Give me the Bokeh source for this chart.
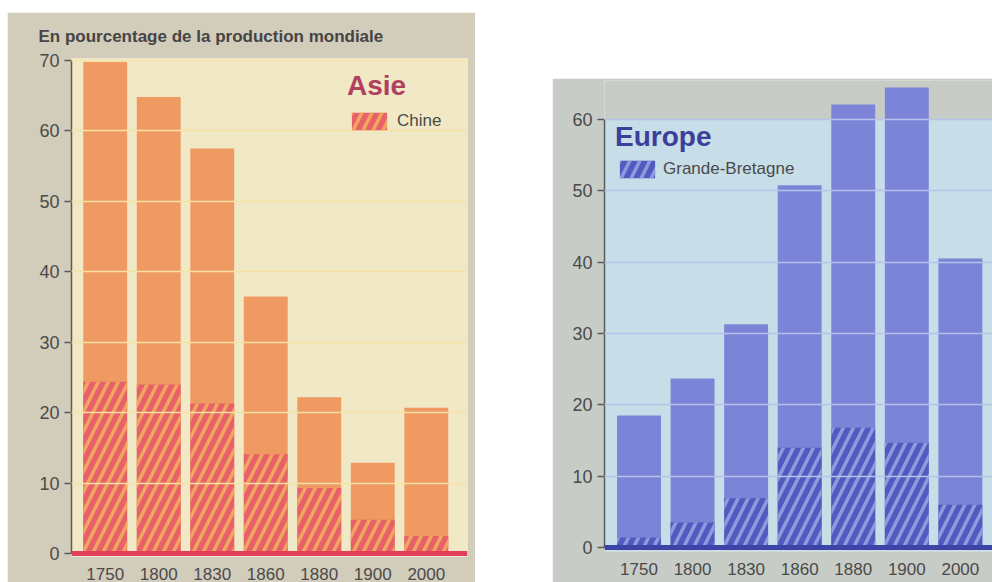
from bokeh.plotting import figure
from bokeh.models import (Range1d, FixedTicker, Span, BoxAnnotation, Legend, LegendItem,
                          Title, Spacer, ColumnDataSource)
from bokeh.layouts import row, column
from bokeh.embed import file_html
from bokeh.resources import INLINE

years = ["1750", "1800", "1830", "1860", "1880", "1900", "2000"]
asie = [69.8, 64.8, 57.5, 36.5, 22.2, 12.9, 20.7]
chine = [24.4, 24.0, 21.3, 14.1, 9.3, 4.8, 2.5]
europe = [18.5, 23.7, 31.3, 50.8, 62.1, 64.5, 40.5]
gb = [1.4, 3.5, 6.9, 14.0, 16.8, 14.7, 6.0]
ticks_left = [0, 10, 20, 30, 40, 50, 60, 70]
ticks_right = [0, 10, 20, 30, 40, 50, 60]

FONT = "Liberation Sans"
idx = list(range(len(years)))
labels = {i: y for i, y in enumerate(years)}


def style_axes(p, ticks, bound_top, grid_color):
    p.xaxis.ticker = FixedTicker(ticks=idx)
    p.xaxis.major_label_overrides = labels
    p.xaxis.axis_line_color = None
    p.xaxis.major_tick_line_color = None
    p.xaxis.minor_tick_line_color = None
    p.xaxis.major_label_text_font = FONT
    p.xaxis.major_label_text_font_size = "17px"
    p.xaxis.major_label_text_color = "#4a4a4a"
    p.xaxis.major_label_standoff = 5
    p.yaxis.ticker = FixedTicker(ticks=ticks)
    p.yaxis.bounds = (0, bound_top)
    p.yaxis.axis_line_color = "#5a5a5a"
    p.yaxis.axis_line_width = 1.5
    p.yaxis.major_tick_line_color = "#5a5a5a"
    p.yaxis.major_tick_line_width = 1.5
    p.yaxis.major_tick_out = 7
    p.yaxis.major_tick_in = 0
    p.yaxis.minor_tick_line_color = None
    p.yaxis.major_label_text_font = FONT
    p.yaxis.major_label_text_font_size = "18px"
    p.yaxis.major_label_text_color = "#4a4a4a"
    p.yaxis.major_label_standoff = 5
    p.xgrid.visible = False
    p.ygrid.ticker = FixedTicker(ticks=ticks[1:])
    p.ygrid.grid_line_color = grid_color
    p.ygrid.grid_line_width = 1.5
    p.ygrid.level = "overlay"
    p.outline_line_color = None


# ---------------- Left: Asie ----------------
p1 = figure(width=468, height=570, x_range=Range1d(-0.63, 6.77), y_range=Range1d(-0.42, 70.28),
            output_backend="svg", toolbar_location=None,
            min_border_left=64, min_border_right=8, min_border_top=46, min_border_bottom=22)
p1.border_fill_color = "#D2CCBB"
p1.background_fill_color = "#F1E8C6"

src1 = ColumnDataSource(dict(x=idx, asie=asie, chine=chine, year=years))
p1.vbar(x="x", top="asie", width=0.82, source=src1, fill_color="#EE9A62", line_color=None)
r_chine = p1.vbar(x="x", top="chine", width=0.82, source=src1, fill_color="#E8606A",
                  line_color=None, hatch_pattern="/", hatch_color="#F2A55E",
                  hatch_weight=3.5, hatch_scale=20)
p1.add_layout(Span(location=0, dimension="width", line_color="#E0405A", line_width=5))
style_axes(p1, ticks_left, 70, "#F6E3A4")

p1.title = Title(text="En pourcentage de la production mondiale", align="left", offset=-33,
                 text_font=FONT, text_font_size="17px", text_font_style="bold",
                 text_color="#454545", standoff=25)

leg1 = Legend(items=[LegendItem(label="Chine", renderers=[r_chine])],
              title="Asie", location=(276, 424), orientation="vertical",
              glyph_width=44, glyph_height=22, label_standoff=6, padding=0, margin=0,
              spacing=0, title_standoff=8,
              background_fill_alpha=0, border_line_color=None,
              label_text_font=FONT, label_text_font_size="17px", label_text_color="#4a4a4a",
              title_text_font=FONT, title_text_font_size="28px", title_text_font_style="bold",
              title_text_color="#B0405E")
p1.add_layout(leg1, "center")

# ---------------- Right: Europe ----------------
p2 = figure(width=440, height=504, x_range=Range1d(-0.644, 6.6), y_range=Range1d(-0.56, 65.47),
            output_backend="svg", toolbar_location=None,
            min_border_left=52, min_border_right=0, min_border_top=2, min_border_bottom=31)
p2.border_fill_color = "#C8CCC7"
p2.background_fill_color = "#C8CCC7"
p2.add_layout(BoxAnnotation(top=60, fill_color="#C7DDE7", fill_alpha=1, line_color=None,
                            level="underlay"))

src2 = ColumnDataSource(dict(x=idx, europe=europe, gb=gb, year=years))
p2.vbar(x="x", top="europe", width=0.82, source=src2, fill_color="#7B84D6", line_color=None)
r_gb = p2.vbar(x="x", top="gb", width=0.82, source=src2, fill_color="#5259BF",
               line_color=None, hatch_pattern="/", hatch_color="#8E9ADD",
               hatch_weight=3.5, hatch_scale=20)
p2.add_layout(Span(location=0, dimension="width", line_color="#3D44A8", line_width=5))
style_axes(p2, ticks_right, 60, "#B7C2EC")

leg2 = Legend(items=[LegendItem(label="Grande-Bretagne", renderers=[r_gb])],
              title="Europe", location=(11, 371), orientation="vertical",
              glyph_width=44, glyph_height=22, label_standoff=4, padding=0, margin=0,
              spacing=0, title_standoff=5,
              background_fill_alpha=0, border_line_color=None,
              label_text_font=FONT, label_text_font_size="17px", label_text_color="#4a4a4a",
              title_text_font=FONT, title_text_font_size="28px", title_text_font_style="bold",
              title_text_color="#3C3F9A")
p2.add_layout(leg2, "center")

layout = row(Spacer(width=7), column(Spacer(height=12), p1), Spacer(width=77),
             column(Spacer(height=78), p2))

open("out.html", "w").write(file_html(layout, INLINE))
